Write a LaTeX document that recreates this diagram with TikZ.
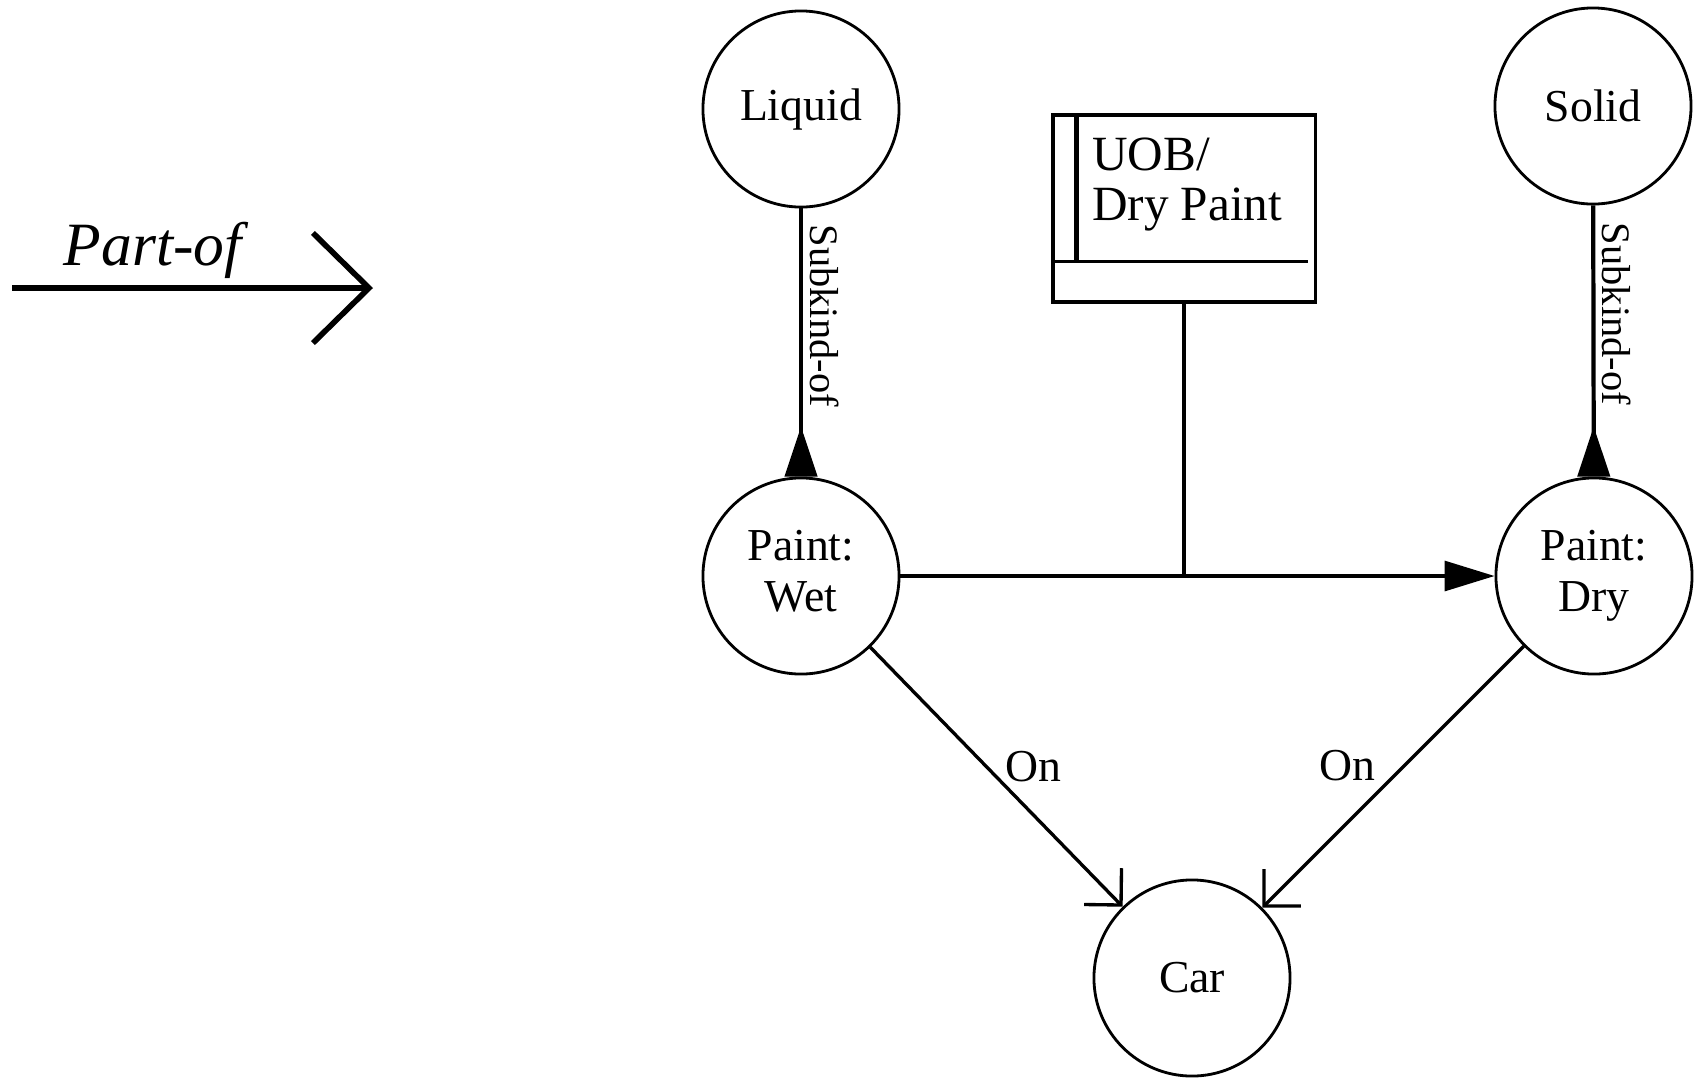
\documentclass[tikz,border=0pt]{standalone}
\usepackage{fontspec}
\setmainfont{Liberation Serif}
\usetikzlibrary{arrows.meta}

\begin{document}
\begin{tikzpicture}[x=0.01cm,y=-0.01cm,
  state node/.style={circle,draw,line width=0.8pt,minimum size=1.96cm,inner sep=0.,align=center,font=\fontsize{13}{14.5}\selectfont},
  link/.style={line width=0.9pt},
  subkind/.style={line width=1.2pt,-{Triangle[reversed,length=0.5cm,width=0.32cm]}},
  on link/.style={line width=0.95pt,-{Straight Barb[length=0.26cm,width=0.52cm]}}]%
  \useasboundingbox (0,0) rectangle (1702,1078);
  % legend
  \coordinate (partstart) at (12,288);
  \coordinate (partend) at (373,288);
  \draw[line width=1.6pt,-{Straight Barb[length=0.56cm,width=1.1cm]}] (partstart) -- node[pos=0.39,above,inner sep=2pt,font=\fontsize{17.5}{20}\selectfont\itshape] {Part-of} (partend);
  % states
  \node[state node] (liquid) at (801,109) {Liquid};
  \node[state node] (solid) at (1593,106) {Solid};
  \node[state node] (wet) at (801,576) {Paint:\\Wet\vphantom{y}};
  \node[state node] (dry) at (1594,576) {Paint:\\Dry};
  \node[state node] (car) at (1192,978) {Car};
  % event box
  \node[draw,line width=0.9pt,minimum width=2.62cm,minimum height=1.87cm,inner sep=0.] (uob) at (1184,208.5) {};
  \draw[line width=0.9pt] ([yshift=-1.48cm]uob.north west) -- ++(257,0);
  \draw[line width=1.3pt] ([xshift=0.25cm]uob.north west) -- ++(0,148);
  \node[anchor=north west,align=left,inner sep=0.,font=\fontsize{14}{14.2}\selectfont] (uobtext) at ([xshift=0.4cm,yshift=-0.24cm]uob.north west) {UOB/\\Dry Paint};
  % links
  \draw[subkind] (liquid) -- node[pos=0.4,rotate=-90,anchor=south,inner sep=2pt,font=\fontsize{11.5}{13}\selectfont] {Subkind-of} (wet);
  \draw[subkind] (solid) -- node[pos=0.4,rotate=-90,anchor=south,inner sep=2pt,font=\fontsize{11.5}{13}\selectfont] {Subkind-of} (dry);
  \coordinate (join) at (uob.south |- wet);
  \draw[link] (uob.south) -- (join);
  \draw[link,-{Triangle[length=0.5cm,width=0.3cm]}] (wet) -- (dry);
  \draw[on link] (wet) -- node[pos=0.5,above right,inner sep=2pt,yshift=-0.14cm,font=\fontsize{13}{14.5}\selectfont] {On} (car);
  \draw[on link] (dry) -- node[pos=0.5,above left,inner sep=2pt,xshift=-0.09cm,yshift=-0.13cm,font=\fontsize{13}{14.5}\selectfont] {On} (car);
\end{tikzpicture}
\end{document}
